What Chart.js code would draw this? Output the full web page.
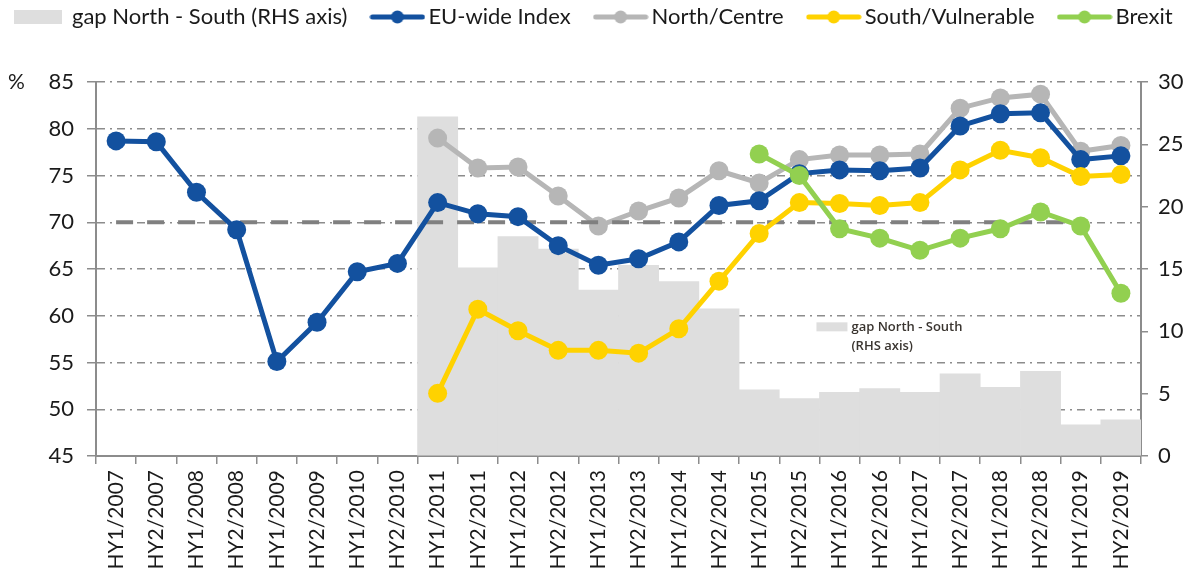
<!DOCTYPE html>
<html lang="en">
<head>
    <meta charset="UTF-8">
    <title>EU-wide Index</title>
    <script src="https://cdn.jsdelivr.net/npm/chart.js"></script>
    <style>
        body {
            margin: 0;
            background: #fff;
        }
        .wrap {
            width: 1201px;
            height: 581px;
        }
    </style>
</head>
<body>
    <div class="wrap"><canvas id="chart"></canvas></div>

    <script>
        const labels = ['HY1/2007', 'HY2/2007', 'HY1/2008', 'HY2/2008', 'HY1/2009', 'HY2/2009',
            'HY1/2010', 'HY2/2010', 'HY1/2011', 'HY2/2011', 'HY1/2012', 'HY2/2012',
            'HY1/2013', 'HY2/2013', 'HY1/2014', 'HY2/2014', 'HY1/2015', 'HY2/2015',
            'HY1/2016', 'HY2/2016', 'HY1/2017', 'HY2/2017', 'HY1/2018', 'HY2/2018',
            'HY1/2019', 'HY2/2019'];

        const euIndex = [78.7, 78.6, 73.2, 69.2, 55.1, 59.3, 64.7, 65.6, 72.1, 70.9, 70.6, 67.5, 65.4,
            66.1, 67.9, 71.8, 72.3, 75.2, 75.6, 75.5, 75.8, 80.3, 81.6, 81.7, 76.7, 77.1];
        const northCentre = [null, null, null, null, null, null, null, null, 79.0, 75.8, 75.9, 72.8, 69.6,
            71.2, 72.6, 75.5, 74.2, 76.7, 77.2, 77.2, 77.3, 82.2, 83.3, 83.7, 77.6, 78.2];
        const southVulnerable = [null, null, null, null, null, null, null, null, 51.7, 60.7, 58.4, 56.3, 56.3,
            56.0, 58.6, 63.7, 68.8, 72.1, 72.0, 71.8, 72.1, 75.6, 77.7, 76.9, 74.9, 75.1];
        const brexit = [null, null, null, null, null, null, null, null, null, null, null, null, null,
            null, null, null, 77.3, 75.0, 69.3, 68.3, 67.0, 68.3, 69.3, 71.1, 69.6, 62.4];
        const gapNorthSouth = [null, null, null, null, null, null, null, null, 27.2, 15.1, 17.6, 16.6, 13.3,
            15.3, 14.0, 11.8, 5.3, 4.6, 5.1, 5.4, 5.1, 6.6, 5.5, 6.8, 2.5, 2.9];
        const targetLine = [70, 70, 70, 70, 70, 70, 70, 70, 70, 70, 70, 70, 70,
            70, 70, 70, 70, 70, 70, 70, 70, 70, 70, 70, 70, null];

        const leftTicks = [45, 50, 55, 60, 65, 70, 75, 80, 85];
        const rightTicks = [0, 5, 10, 15, 20, 25, 30];

        const FONT = 'Lato, "Open Sans", sans-serif';
        const AXIS_GREY = '#8c8c8c';

        // legend swatches are wider than the legend box so they sit close to the text
        function lineSwatch(color) {
            const c = document.createElement('canvas');
            c.width = 56; c.height = 16;
            const g = c.getContext('2d');
            g.strokeStyle = color;
            g.lineWidth = 5;
            g.lineCap = 'round';
            g.beginPath();
            g.moveTo(3, 8); g.lineTo(53, 8);
            g.stroke();
            g.fillStyle = color;
            g.beginPath();
            g.arc(28, 8, 6.5, 0, Math.PI * 2);
            g.fill();
            return c;
        }
        function boxSwatch(color) {
            const c = document.createElement('canvas');
            c.width = 56; c.height = 14;
            const g = c.getContext('2d');
            g.fillStyle = color;
            g.fillRect(1, 0, 48, 14);
            return c;
        }

        // legend takes the whole band above the plot, one row, items near the top
        const legendBand = {
            id: 'legendBand',
            beforeLayout(chart) {
                const lg = chart.legend;
                if (!lg || lg._band) return;
                lg._band = true;
                const fit = lg.fit;
                lg.fit = function () {
                    const mw = this.maxWidth;
                    this.maxWidth = mw + 300;
                    fit.call(this);
                    this.maxWidth = mw;
                    this.width = mw;
                    this.height = 82;
                };
                const draw = lg.draw;
                lg.draw = function () {
                    const c = this.ctx;
                    const r = this.right;
                    this.right = r + 300;
                    c.save();
                    c.translate(-9, -24);
                    draw.call(this);
                    c.restore();
                    this.right = r;
                };
            }
        };

        const extras = {
            id: 'extras',
            afterDraw(chart) {
                const ctx = chart.ctx;
                const x = chart.scales.x, y = chart.scales.y, y1 = chart.scales.y1;
                ctx.save();
                ctx.fillStyle = '#1a1a1a';
                ctx.font = '21px ' + FONT;
                ctx.textBaseline = 'middle';
                ctx.fillText('%', 8, y.getPixelForValue(85));

                // inline note for the bars
                const bx = (x.getPixelForValue(17) + x.getPixelForValue(18)) / 2 - 3;
                const by = y1.getPixelForValue(10.4);
                ctx.fillStyle = '#dedede';
                ctx.fillRect(bx, by - 4, 31, 9);
                ctx.fillStyle = '#3a3530';
                ctx.font = '600 13px "Open Sans", sans-serif';
                ctx.fillText('gap North - South', bx + 35, by + 1);
                ctx.fillText('(RHS axis)', bx + 35, by + 20);
                ctx.restore();
            }
        };

        function lineSet(label, data, color, order) {
            return {
                type: 'line',
                label: label,
                data: data,
                yAxisID: 'y',
                borderColor: color,
                backgroundColor: color,
                borderWidth: 5,
                pointRadius: 9.5,
                pointBorderWidth: 0,
                pointStyle: 'circle',
                legendSwatch: lineSwatch(color),
                order: order
            };
        }

        new Chart(document.getElementById('chart'), {
            data: {
                labels: labels,
                datasets: [
                    {
                        type: 'bar',
                        label: 'gap North - South (RHS axis)',
                        data: gapNorthSouth,
                        yAxisID: 'y1',
                        backgroundColor: '#dedede',
                        barPercentage: 1,
                        categoryPercentage: 1,
                        order: 9,
                        legendSwatch: boxSwatch('#dedede')
                    },
                    lineSet('EU-wide Index', euIndex, '#13519f', 2),
                    lineSet('North/Centre', northCentre, '#b6b6b6', 4),
                    lineSet('South/Vulnerable', southVulnerable, '#ffd200', 1),
                    lineSet('Brexit', brexit, '#92d050', 0),
                    {
                        type: 'line',
                        label: 'target',
                        data: targetLine,
                        yAxisID: 'y',
                        borderColor: '#808080',
                        borderWidth: 4,
                        borderDash: [17, 14],
                        pointRadius: 0,
                        order: 3
                    }
                ]
            },
            options: {
                responsive: true,
                maintainAspectRatio: false,
                animation: false,
                layout: { padding: 0 },
                plugins: {
                    tooltip: { enabled: false },
                    legend: {
                        position: 'top',
                        align: 'start',
                        labels: {
                            usePointStyle: true,
                            pointStyleWidth: 40,
                            padding: 30,
                            color: '#1a1a1a',
                            font: { family: FONT, size: 22 },
                            filter: item => item.text !== 'target',
                            sort: (a, b) => a.datasetIndex - b.datasetIndex,
                            generateLabels(chart) {
                                const items = Chart.defaults.plugins.legend.labels.generateLabels(chart);
                                items.forEach(it => {
                                    it.pointStyle = chart.data.datasets[it.datasetIndex].legendSwatch;
                                });
                                return items;
                            }
                        }
                    }
                },
                scales: {
                    x: {
                        offset: true,
                        grid: {
                            offset: true,
                            drawOnChartArea: false,
                            color: AXIS_GREY,
                            tickLength: 8,
                            lineWidth: 1.5
                        },
                        border: { color: AXIS_GREY, width: 2 },
                        ticks: {
                            autoSkip: false,
                            minRotation: 90,
                            maxRotation: 90,
                            padding: 6,
                            color: '#1a1a1a',
                            font: { family: FONT, size: 21 }
                        },
                        afterFit: s => { s.height = 125; }
                    },
                    y: {
                        position: 'left',
                        min: 45,
                        max: 85,
                        afterBuildTicks: s => { s.ticks = leftTicks.map(v => ({ value: v })); },
                        grid: {
                            color: AXIS_GREY,
                            lineWidth: 1.5,
                            tickLength: 9
                        },
                        border: { color: AXIS_GREY, width: 2, dash: [8, 5, 2, 5] },
                        ticks: {
                            padding: 13,
                            color: '#1a1a1a',
                            font: { family: FONT, size: 22 }
                        },
                        afterFit: s => { s.width = 96; }
                    },
                    y1: {
                        position: 'right',
                        min: 0,
                        max: 30,
                        afterBuildTicks: s => { s.ticks = rightTicks.map(v => ({ value: v })); },
                        grid: {
                            drawOnChartArea: false,
                            color: AXIS_GREY,
                            tickLength: 7,
                            lineWidth: 1.5
                        },
                        border: { color: AXIS_GREY, width: 2 },
                        ticks: {
                            padding: 10,
                            color: '#1a1a1a',
                            font: { family: FONT, size: 22 }
                        },
                        afterFit: s => { s.width = 60; }
                    }
                }
            },
            plugins: [legendBand, extras]
        });
    </script>
</body>
</html>
